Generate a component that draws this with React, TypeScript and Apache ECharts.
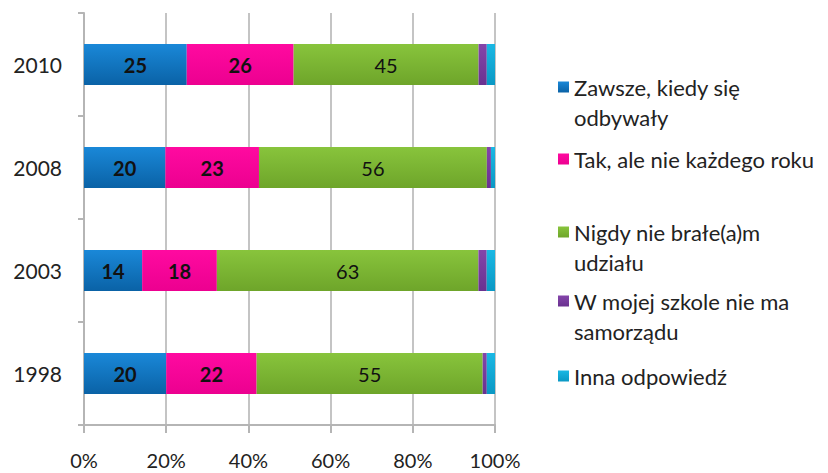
import React, { useEffect, useRef } from "react";
import * as echarts from "echarts";

const categories = ["1998", "2003", "2008", "2010"];
const seriesNames = [
  "Zawsze, kiedy się\nodbywały",
  "Tak, ale nie każdego roku",
  "Nigdy nie brałe(a)m\nudziału",
  "W mojej szkole nie ma\nsamorządu",
  "Inna odpowiedź",
];
const zawsze = [20, 14, 20, 25];
const tak = [22, 18, 23, 26];
const nigdy = [55, 63, 56, 45];
const brakSamorzadu = [1, 2, 1, 2];
const inna = [2, 2, 1, 2];
const xTicks = [0, 20, 40, 60, 80, 100];

const FONT = "Lato, 'Open Sans', sans-serif";

function grad(top: string, bottom: string) {
  return new echarts.graphic.LinearGradient(0, 0, 0, 1, [
    { offset: 0, color: top },
    { offset: 1, color: bottom },
  ]);
}

export default function App() {
  const ref = useRef<HTMLDivElement>(null);
  useEffect(() => {
    document.body.style.margin = "0";
    if (!ref.current) return;
    const chart = echarts.init(ref.current, undefined, { renderer: "svg" });
    const raw = [zawsze, tak, nigdy, brakSamorzadu, inna];
    const totals = categories.map((_, i) => raw.reduce((s, arr) => s + arr[i], 0));
    const colors = [
      grad("#1a88d8", "#0a62a6"),
      grad("#ff0aa0", "#ec0090"),
      grad("#88c43c", "#6ea52a"),
      grad("#8445aa", "#6a3190"),
      grad("#1ab8e4", "#0a98c4"),
    ];
    const labelStyles = [
      { show: true, fontWeight: "bold" },
      { show: true, fontWeight: "bold" },
      { show: true, fontWeight: "normal" },
      { show: false },
      { show: false },
    ];
    const series = raw.map((arr, si) => ({
      name: seriesNames[si],
      type: "bar",
      stack: "total",
      barWidth: 41,
      data: arr.map((v, i) => ({ value: (v / totals[i]) * 100, raw: v })),
      itemStyle: { color: colors[si] },
      label: {
        ...labelStyles[si],
        position: "inside",
        color: "#111",
        fontSize: 20,
        fontFamily: FONT,
        formatter: (p: any) => String(p.data.raw),
      },
    }));

    const lh = 30;
    const legendCenters = [87, 159, 232, 301, 376];
    const twoLine = [true, false, true, true, false];
    const legends = seriesNames.map((name, i) => {
      const boxH = twoLine[i] ? 3 * lh : lh;
      return {
        data: [name],
        left: 558,
        top: legendCenters[i] - boxH / 2,
        orient: "vertical",
        padding: 0,
        itemWidth: 11,
        itemHeight: 11,
        icon: "rect",
        selectedMode: false,
        formatter: (n: string) => (twoLine[i] ? "\n" + n : n),
        textStyle: {
          fontSize: 22,
          fontFamily: FONT,
          color: "#222",
          lineHeight: lh,
        },
      };
    });

    chart.setOption({
      animation: false,
      textStyle: { fontFamily: FONT },
      grid: { left: 84, right: 333, top: 13, bottom: 48, containLabel: false },
      legend: legends,
      xAxis: {
        type: "value",
        min: xTicks[0],
        max: xTicks[xTicks.length - 1],
        interval: xTicks[1] - xTicks[0],
        axisLine: { show: true, lineStyle: { color: "#b5b5b5", width: 2 } },
        axisTick: { show: true, length: 8, lineStyle: { color: "#b5b5b5", width: 2 } },
        splitLine: { show: true, lineStyle: { color: "#c4c4c4", width: 2 } },
        axisLabel: {
          formatter: "{value}%",
          fontSize: 20,
          color: "#222",
          fontFamily: FONT,
          margin: 25,
        },
      },
      yAxis: {
        type: "category",
        data: categories,
        axisLine: { show: true, lineStyle: { color: "#b5b5b5", width: 2 } },
        axisTick: { show: true, length: 6, lineStyle: { color: "#b5b5b5", width: 2 } },
        axisLabel: { fontSize: 21, color: "#222", fontFamily: FONT, margin: 22 },
      },
      series,
    });
    return () => chart.dispose();
  }, []);
  return <div ref={ref} style={{ width: 828, height: 473 }} />;
}
